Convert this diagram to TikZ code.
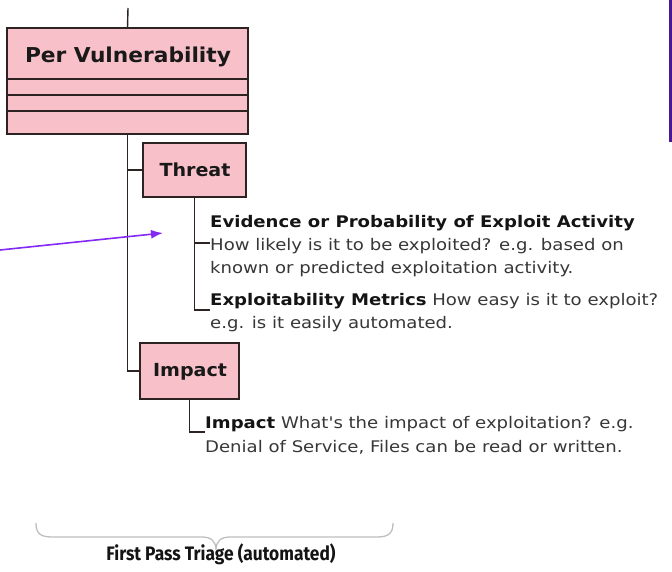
\documentclass[tikz,border=0pt]{standalone}
\usepackage{fontspec}
\setmainfont{DejaVu Sans}
\newfontfamily\descfont[FakeStretch=1.13]{DejaVu Sans}
\newfontfamily\titlefont[FakeStretch=1.06]{DejaVu Sans}
\newfontfamily\capfont[FakeStretch=0.89]{Fira Sans}
\usetikzlibrary{arrows.meta}
\definecolor{boxpink}{RGB}{248,193,202}
\definecolor{boxline}{RGB}{45,35,35}
\definecolor{desc}{RGB}{55,55,55}
\definecolor{arrowviolet}{RGB}{132,40,245}
\definecolor{edgepurple}{RGB}{72,24,150}
\definecolor{bracegray}{RGB}{190,190,190}
\tikzset{
  pinkbox/.style={draw=boxline, line width=1.4pt, fill=boxpink, inner sep=0pt, outer sep=0pt},
  conn/.style={draw=boxline, line width=1.4pt},
  boxtitle/.style={inner sep=0pt, font=\titlefont\bfseries\fontsize{18}{20}\selectfont, text=black!90},
  descline/.style={anchor=base west, inner sep=0pt, font=\descfont\fontsize{16}{18}\selectfont, text=desc},
}
\begin{document}
\begin{tikzpicture}[x=1pt,y=-1pt]
\useasboundingbox (0,0) rectangle (672,571);
% Per Vulnerability box
\node[pinkbox, minimum width=241pt, minimum height=106pt] (pv) at (127.5,81) {};
\node[boxtitle, font=\titlefont\bfseries\fontsize{20.5}{22}\selectfont] (pvt) at (128,57) {Per Vulnerability};
\draw[conn] ([yshift=-51pt]pv.north west) -- ([yshift=-51pt]pv.north east);
\draw[conn] ([yshift=-67pt]pv.north west) -- ([yshift=-67pt]pv.north east);
\draw[conn] ([yshift=-83pt]pv.north west) -- ([yshift=-83pt]pv.north east);
\coordinate (topend) at (128,8);
\draw[conn] (topend) -- (pv.north);

% Threat and Impact
\node[pinkbox, minimum width=103pt, minimum height=54pt] (threat) at (194.5,170) {};
\node[boxtitle] (threatt) at (195,170) {Threat};
\node[pinkbox, minimum width=99pt, minimum height=56pt] (impact) at (189.5,371) {};
\node[boxtitle] (impactt) at (190,372) {Impact};

\draw[conn] (pv.south) -- (pv.south |- impact.west) -- (impact.west);
\draw[conn] (pv.south |- threat.west) -- (threat.west);

% Threat description
\node[descline] (ev) at (210,227) {\textbf{\color{black!92}Evidence or Probability of Exploit Activity}};
\node[descline] (how) at (210,250) {How likely is it to be exploited? e.g. based on};
\node[descline] (known) at (210,273) {known or predicted exploitation activity.};
\node[descline] (expl) at (210,305) {\textbf{\color{black!92}Exploitability Metrics} How easy is it to exploit?};
\node[descline] (eg) at (210,328) {e.g. is it easily automated.};
\coordinate (thrbend) at (194.5,310);
\coordinate (howtick) at (210,243);
\coordinate (expltick) at (210,310);
\draw[conn, line width=1.2pt] (threat.south) -- (thrbend) -- (expltick);
\draw[conn, line width=1.2pt] (threat.south |- howtick) -- (howtick);

% Impact description
\node[descline] (imp) at (205,428) {\textbf{\color{black!92}Impact} What's the impact of exploitation? e.g.};
\node[descline] (den) at (205,452) {Denial of Service, Files can be read or written.};
\coordinate (impbend) at (189.5,432);
\coordinate (imptick) at (205,432);
\draw[conn, line width=1.2pt] (impact.south) -- (impbend) -- (imptick);

% Purple arrow
\coordinate (arrstart) at (0,250);
\coordinate (arrend) at (163,233);
\draw[arrowviolet, line width=1.6pt, -{Latex[length=12pt,width=9pt]}] (arrstart) -- (arrend);

% Purple edge line at right
\coordinate (edgetop) at (670.5,0);
\coordinate (edgebot) at (670.5,141.5);
\draw[edgepurple, line width=2.4pt] (edgetop) -- (edgebot);

% Brace
\coordinate (bl) at (36,523);
\coordinate (br) at (393,523);
\coordinate (btip) at (216,550);
\draw[bracegray, line width=1.3pt] (bl) .. controls (36,533) and (40,537) .. (52,537) -- (202,537)
  .. controls (211,537) and (216,541) .. (btip)
  .. controls (216,541) and (221,537) .. (230,537) -- (377,537)
  .. controls (389,537) and (393,533) .. (br);
\node[inner sep=0pt, anchor=base, font=\capfont\bfseries\fontsize{19.5}{21}\selectfont, text=black!92] (cap) at (221,560) {First Pass Triage (automated)};
\end{tikzpicture}
\end{document}
